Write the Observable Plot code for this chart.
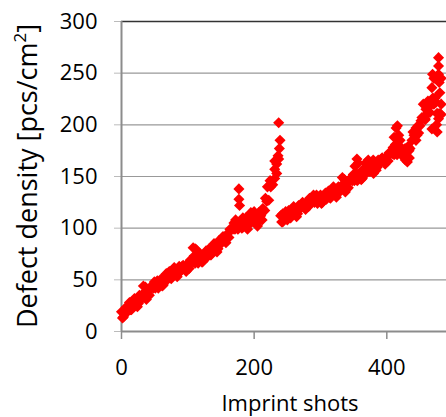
<!DOCTYPE html>
<html>
<head>
<meta charset="utf-8">
<script src="https://cdn.jsdelivr.net/npm/d3@7"></script>
<script src="https://cdn.jsdelivr.net/npm/@observablehq/plot@0.6"></script>
<style>
  html, body { margin: 0; padding: 0; background: #fff; }
  #chart { width: 446px; height: 417px; overflow: hidden; }
</style>
</head>
<body>
<div id="chart"></div>
<script>
// First run (before the drop)
const shotsA = [0,3,6,9,12,15,18,21,24,27,30,33,36,39,42,45,48,51,54,57,60,63,66,69,72,75,78,81,84,87,90,93,96,99,102,105,108,111,114,117,120,123,126,129,132,135,138,141,144,147,150,153,156,159,162,165,168,171,174,177,180,183,186,189,192,195,198,201,204,207,210,213,216,219,222,225,228,231,234,237];
const densityA = [19,14,20,19,28,21,26,29,24,35,31,37,33,38,35,43,42,42,49,46,51,45,52,50,58,51,56,59,53,63,59,64,60,65,61,68,67,66,73,69,74,68,74,72,80,74,78,82,77,88,85,92,88,94,91,99,99,99,106,102,107,101,107,104,112,105,108,111,105,115,112,119,117,126,127,140,142,148,162,167];
const shotsA2 = [1.5,7.5,13.5,19.5,25.5,31.5,37.5,43.5,49.5,55.5,61.5,67.5,73.5,79.5,85.5,91.5,97.5,103.5,109.5,115.5,121.5,127.5,133.5,139.5,145.5,151.5,157.5,163.5,169.5,175.5,181.5,187.5,193.5,199.5,205.5,211.5];
const densityA2 = [13,24,21,32,27,35,31,43,48,42,44,56,52,62,56,63,58,69,73,66,67,78,74,85,80,90,86,99,105,99,100,110,106,115,108,117];
// Second run (after the drop)
const shotsB = [240,243,246,249,252,255,258,261,264,267,270,273,276,279,282,285,288,291,294,297,300,303,306,309,312,315,318,321,324,327,330,333,336,339,342,345,348,351,354,357,360,363,366,369,372,375,378,381,384,387,390,393,396,399,402,405,408,411,414,417,420,423,426,429,432,435,438,441,444,447,450,453,456,459,462,465,468,471,474,477,480];
const densityB = [112,106,112,110,117,110,114,117,111,122,119,125,120,125,121,128,127,125,132,127,132,125,131,128,136,129,133,136,130,140,136,142,137,143,139,147,146,146,153,149,154,148,155,153,161,155,159,162,156,166,163,168,164,169,165,172,172,171,178,174,179,171,175,170,179,177,185,190,185,199,199,207,207,215,212,220,220,220,222,211,211];
const shotsB2 = [241.5,247.5,253.5,259.5,265.5,271.5,277.5,283.5,289.5,295.5,301.5,307.5,313.5,319.5,325.5,331.5,337.5,343.5,349.5,355.5,361.5,367.5,373.5,379.5,385.5,391.5,397.5,403.5,409.5,415.5,421.5,427.5,433.5,439.5,445.5,451.5,457.5,463.5,469.5,475.5];
const densityB2 = [106,116,111,121,114,123,118,129,132,124,124,134,130,140,133,140,135,147,152,146,147,159,155,166,159,167,162,173,178,171,171,177,175,193,190,204,206,220,226,211];
// Scattered points off the main band
const extraShots = [33,36,52,108,111,113,115,177,177,178,172,183,195,200,190,205,212,217,220,224,231,231,234,238,239,237,236,243,250,333,336,352,355,357,368,372,380,411,413,414,416,418,420,428,431,434,444,448,455,458,462,465,468,468,469,471,473,475,478,478,478,479,478,480,482,482,482,476];
const extraDensity = [44,43,46,81,80,79,77,138,128,122,108,110,115,116,99,102,108,129,140,146,157,165,153,177,185,202,170,114,108,149,147,160,167,163,163,166,153,188,181,197,199,190,185,166,164,168,197,192,220,205,223,212,236,196,249,245,226,200,265,257,249,241,206,231,210,220,245,193];

const xTicks = [0, 200, 400];
const yTicks = [0, 50, 100, 150, 200, 250, 300];
const xLabel = "Imprint shots";
const yLabel = "Defect density [pcs/cm";
const ySup = "2";

const points = [];
shotsA.forEach((s, i) => points.push({shot: s, density: densityA[i]}));
shotsA2.forEach((s, i) => points.push({shot: s, density: densityA2[i]}));
shotsB.forEach((s, i) => points.push({shot: s, density: densityB[i]}));
shotsB2.forEach((s, i) => points.push({shot: s, density: densityB2[i]}));
extraShots.forEach((s, i) => points.push({shot: s, density: extraDensity[i]}));

const axisColor = "#8c8c8c";

const plot = Plot.plot({
  width: 446,
  height: 417,
  marginLeft: 121,
  marginRight: 0,
  marginTop: 21,
  marginBottom: 86,
  x: {domain: [0, 490]},
  y: {domain: [0, 300]},
  style: {fontFamily: "'Open Sans', sans-serif", fontSize: "22px", color: "#000", background: "#fff", overflow: "hidden"},
  marks: [
    Plot.gridY(yTicks.slice(1, -1), {stroke: "#999999", strokeOpacity: 1, strokeWidth: 1.2}),
    Plot.ruleY([300], {stroke: "#333333", strokeWidth: 1.6}),
    Plot.axisY(yTicks, {tickSize: 7, tickPadding: 17, stroke: "#bbbbbb", strokeOpacity: 1, label: null, tickFormat: d => String(d)}),
    Plot.axisX(xTicks, {tickSize: 8, tickPadding: 20, stroke: axisColor, strokeOpacity: 1, strokeWidth: 1.5, label: null, tickFormat: d => String(d)}),
    Plot.ruleY([0], {stroke: axisColor, strokeWidth: 2}),
    Plot.ruleX([0], {y1: 0, y2: 300, stroke: axisColor, strokeWidth: 2}),
    Plot.dot(points, {x: "shot", y: "density", symbol: "diamond2", r: 5, fill: "#ff0000", stroke: "none"})
  ]
});

const svg = d3.select(plot);
const yl = svg.append("text")
  .attr("transform", "translate(37,176) rotate(-90)")
  .attr("text-anchor", "middle")
  .style("font-family", "'Open Sans', sans-serif")
  .style("font-size", "27px")
  .attr("fill", "#000");
yl.append("tspan").text(yLabel);
yl.append("tspan").attr("dy", -11).style("font-size", "17px").text(ySup);
yl.append("tspan").attr("dy", 11).text("]");

svg.append("text")
  .attr("x", 290)
  .attr("y", 411)
  .attr("text-anchor", "middle")
  .style("font-family", "'Open Sans', sans-serif")
  .style("font-size", "22px")
  .attr("fill", "#000")
  .text(xLabel);

document.getElementById("chart").appendChild(plot);
</script>
</body>
</html>
